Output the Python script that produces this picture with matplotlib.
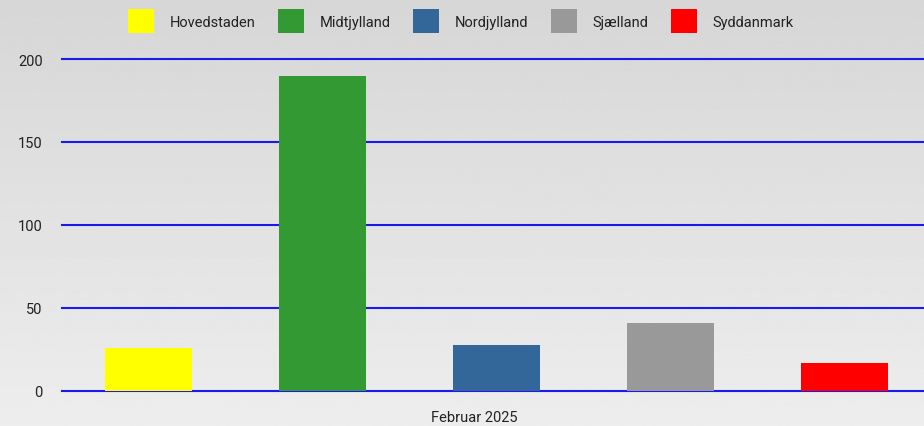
import numpy as np
import matplotlib.pyplot as plt
from matplotlib.patches import Patch

regions = ["Hovedstaden", "Midtjylland", "Nordjylland", "Sjælland", "Syddanmark"]
values = [26, 190, 28, 41, 17]
colors = ["#ffff00", "#339933", "#336699", "#999999", "#ff0000"]
period = "Februar 2025"
yticks = [0, 50, 100, 150, 200]

plt.rcParams["font.family"] = ["Roboto", "DejaVu Sans"]

fig = plt.figure(figsize=(9.24, 4.27), dpi=100)

# gradient background over the whole figure
bg = fig.add_axes([0, 0, 1, 1], zorder=-10)
grad = np.linspace(0.84, 0.93, 256).reshape(-1, 1)
bg.imshow(grad, aspect="auto", cmap="gray", vmin=0, vmax=1, origin="upper",
          extent=[0, 1, 0, 1])
bg.axis("off")

ax = fig.add_axes([62 / 924, 35 / 427, 862 / 924, 332 / 427])
ax.patch.set_alpha(0)

x = np.arange(len(regions))
ax.bar(x, values, width=0.5, color=colors, zorder=3)

ax.set_ylim(0, 200)
ax.set_xlim(-0.497, 4.457)
ax.set_yticks(yticks)
ax.set_yticklabels([str(v) for v in yticks], fontsize=10.5, color="#222222")
ax.tick_params(axis="y", length=0, pad=14)
ax.set_xticks([])
for v in yticks:
    ax.axhline(v, color="#1a1aee", linewidth=1.5, zorder=1, clip_on=False)
for s in ax.spines.values():
    s.set_visible(False)

fig.text(474 / 924, 1 - 418 / 427, period, ha="center", va="center",
         fontsize=10.5, color="#222222")

handles = [Patch(facecolor=c, edgecolor="none") for c in colors]
fig.legend(handles, regions, loc="center", bbox_to_anchor=(0.499, 1 - 22 / 427),
           ncol=5, frameon=False, fontsize=10.5, handlelength=1.75, handleheight=2.25,
           handletextpad=1.1, columnspacing=1.55, labelcolor="#222222")

fig.savefig("out.png", dpi=100)
